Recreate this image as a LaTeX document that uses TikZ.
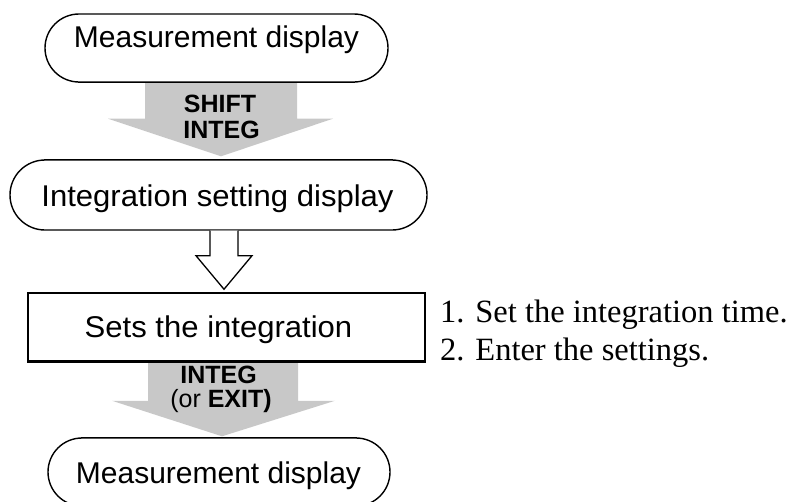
\documentclass[tikz,border=0pt]{standalone}
\usepackage{fontspec}
\setmainfont{Liberation Serif}
\setsansfont{Liberation Sans}
\usetikzlibrary{calc}
\definecolor{arrowgray}{RGB}{200,200,200}
\begin{document}
\begin{tikzpicture}[x=1pt,y=-1pt,
  pill/.style={draw, line width=1.4pt, rounded corners=34pt, inner sep=0pt},
  boxrect/.style={draw, line width=1.5pt, inner sep=0pt},
  lbl/.style={inner sep=0pt, anchor=base, font=\sffamily\fontsize{30}{32}\selectfont},
  keytext/.style={inner sep=0pt, anchor=base, font=\sffamily\bfseries\fontsize{25}{27}\selectfont},
  keyplain/.style={inner sep=0pt, anchor=base, font=\sffamily\fontsize{25}{27}\selectfont},
  note/.style={inner sep=0pt, anchor=base west, font=\rmfamily\fontsize{32.5}{35}\selectfont},
  blockarrow/.style={fill=arrowgray},
  hollowarrow/.style={draw, line width=1.3pt, fill=white, line join=miter}]
\useasboundingbox (0,0) rectangle (789,501);
\clip (0,0) rectangle (789,501);

% shapes (no text)
\node[pill, minimum width=343pt, minimum height=68pt] (m1) at (216.5,48) {};
\node[pill, rounded corners=35pt, minimum width=417pt, minimum height=70pt] (isd) at (218.5,195) {};
\node[boxrect, minimum width=397pt, minimum height=68pt] (set) at (226.5,327) {};
\node[pill, minimum width=342pt, minimum height=68pt] (m2) at (219,472) {};

% gray block arrow 1
\coordinate (a1s) at (221,0 |- m1.south);
\coordinate (a1t) at ($(221,0 |- isd.north)+(0,-3)$);
\fill[blockarrow] ($(a1s)+(-76,0)$) -- ($(a1s)+(76,0)$) -- ($(a1s)+(76,36)$)
  -- ($(a1s)+(112,36)$) -- (a1t) -- ($(a1s)+(-113,36)$) -- ($(a1s)+(-76,36)$) -- cycle;

% hollow arrow
\coordinate (h1s) at (224,0 |- isd.south);
\coordinate (h1t) at ($(224,0 |- set.north)+(0,-3)$);
\draw[hollowarrow] ($(h1s)+(-14,0)$) -- ($(h1s)+(-14,25)$) -- ($(h1s)+(-28,25)$)
  -- (h1t) -- ($(h1s)+(28,25)$) -- ($(h1s)+(14,25)$) -- ($(h1s)+(14,0)$);

% gray block arrow 2
\coordinate (a2s) at (223,0 |- set.south);
\coordinate (a2t) at ($(222,0 |- m2.north)+(0,-1)$);
\fill[blockarrow] ($(a2s)+(-75,0.8)$) -- ($(a2s)+(75,0.8)$) -- ($(a2s)+(75,39)$)
  -- ($(a2s)+(112,39)$) -- (a2t) -- ($(a2s)+(-111,39)$) -- ($(a2s)+(-75,39)$) -- cycle;

% redraw outlines on top
\draw[line width=1.4pt] (m1.south west) ++(34,0) -- ($(m1.south east)+(-34,0)$);
\draw[line width=1.5pt] (set.south west) -- (set.south east);
\draw[line width=1.4pt] (m2.north west) ++(34,0) -- ($(m2.north east)+(-34,0)$);
\draw[line width=1.4pt] (isd.north west) ++(35,0) -- ($(isd.north east)+(-35,0)$);

% labels
\node[lbl] (t1) at (216.5,47) {Measurement display};
\node[lbl] (t2) at (217.5,206) {\scalebox{1.035}[1]{Integration setting display}};
\node[lbl] (t3) at (218.5,337) {\scalebox{1.035}[1]{Sets the integration}};
\node[lbl] (t4) at (218.5,483) {Measurement display};

\node[keytext] (k1) at (220,112) {SHIFT};
\node[keytext] (k2) at (221.5,138) {INTEG};
\node[keytext] (k3) at (218.5,383) {INTEG};
\node[keyplain] (k4) at (221,407) {(or \textbf{EXIT)}};

\node[note] (n1) at (440,322) {1. Set the integration time.};
\node[note] (n2) at (440,360) {2. Enter the settings.};
\end{tikzpicture}
\end{document}
